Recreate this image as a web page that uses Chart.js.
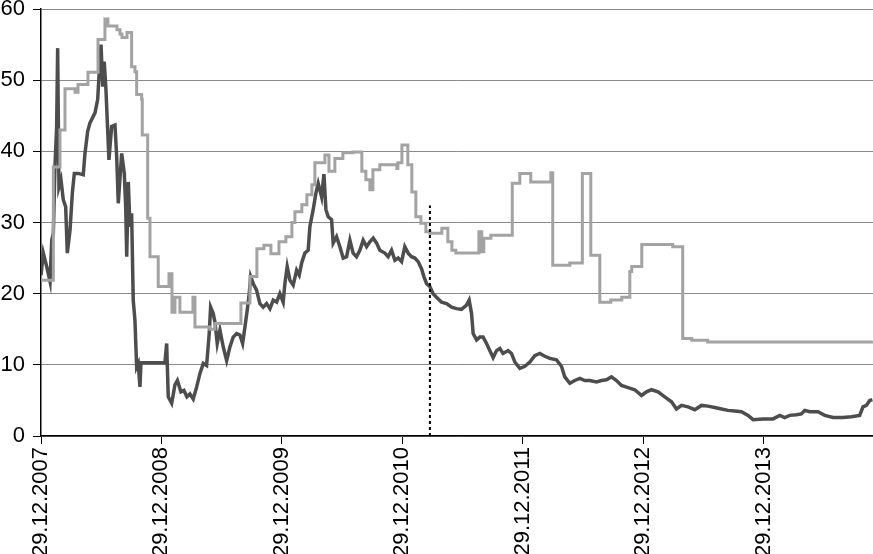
<!DOCTYPE html>
<html>
<head>
<meta charset="utf-8">
<script src="https://cdn.jsdelivr.net/npm/chart.js@4.4.1/dist/chart.umd.min.js"></script>
<style>
  html, body { margin: 0; padding: 0; background: #fff; }
  #wrap { width: 873px; height: 554px; }
</style>
</head>
<body>
<div id="wrap"><canvas id="myChart" width="873" height="554"></canvas></div>
<script>
// x = months since 29.12.2007
var tickMonths = [0, 12, 24, 36, 48, 60, 72];
var tickLabels = ['29.12.2007', '29.12.2008', '29.12.2009', '29.12.2010', '29.12.2011', '29.12.2012', '29.12.2013'];

// light series (step levels, each value holds from its month on)
var lightMonths = [0, 1.23, 1.89, 2.39, 3.39, 3.69, 4.68, 5.68, 6.37, 6.67, 7.57, 7.87, 8.07, 8.57, 9.03, 9.36, 9.53, 10.03, 10.09, 10.63,
  10.86, 11.68, 12.75, 13.05, 13.35, 13.84, 15.14, 15.34, 16.83, 17.33, 19.92, 20.82, 21.51, 22.21, 22.91, 23.71, 24.4, 25.0, 25.3, 25.99,
  26.49, 26.99, 27.29, 28.29, 28.69, 29.28, 30.08, 31.08, 31.97, 32.37, 32.77, 33.07, 33.76, 35.46, 35.56, 35.96, 36.55, 36.95, 37.35, 37.85,
  38.35, 38.75, 39.94, 40.54, 40.94, 41.33, 43.63, 43.92, 44.12, 44.82, 46.96, 47.71, 48.8, 50.8, 50.99, 52.69, 53.94, 54.78, 55.68, 56.77,
  57.87, 58.67, 58.86, 59.86, 62.95, 63.94, 64.84, 66.43, 82.87];
var lightValues = [21.9, 37.8, 43.0, 48.8, 48.3, 49.4, 51.1, 55.7, 58.6, 57.6, 57.1, 56.5, 56.0, 56.7, 51.9, 51.2, 48.0, 47.3, 42.3, 30.6,
  25.2, 21.0, 22.8, 17.4, 19.5, 17.4, 19.5, 15.3, 15.0, 15.8, 18.7, 22.4, 26.3, 26.8, 25.6, 27.3, 28.0, 30.0, 31.5, 32.5,
  33.9, 35.3, 38.4, 39.5, 37.2, 39.0, 39.8, 39.9, 37.2, 36.0, 34.6, 37.4, 38.1, 37.6, 38.4, 40.9, 38.1, 34.3, 30.8, 29.9,
  28.7, 28.5, 29.2, 27.3, 26.1, 25.7, 28.7, 25.9, 27.8, 28.2, 35.5, 36.9, 35.7, 37.0, 24.0, 24.3, 36.9, 25.4, 18.8, 19.1,
  19.5, 23.1, 23.8, 26.9, 26.6, 13.7, 13.45, 13.2, 13.3];

// dark series
var darkMonths = [0, 0.23, 0.57, 0.9, 1.07, 1.23, 1.39, 1.56, 1.66, 1.79, 1.99, 2.22, 2.46, 2.62, 2.89, 3.12, 3.32, 3.72, 4.21, 4.38,
  4.65, 4.88, 5.38, 5.65, 5.88, 5.98, 6.15, 6.3, 6.47, 6.77, 7.04, 7.37, 7.54, 7.7, 8.04, 8.3, 8.44, 8.54, 8.7, 8.86,
  9.03, 9.19, 9.36, 9.53, 9.69, 9.86, 9.96, 12.35, 12.52, 12.68, 13.02, 13.35, 13.59, 13.94, 14.24, 14.54, 14.84, 15.17, 15.51, 15.84,
  16.17, 16.5, 16.76, 16.9, 17.16, 17.33, 17.56, 17.83, 18.16, 18.5, 18.82, 19.15, 19.49, 19.82, 20.09, 20.32, 20.55, 20.75, 20.89, 21.15,
  21.48, 21.81, 22.14, 22.48, 22.81, 23.14, 23.48, 23.8, 24.13, 24.3, 24.53, 24.8, 25.13, 25.47, 25.73, 25.97, 26.29, 26.62, 26.79, 27.12,
  27.39, 27.62, 27.96, 28.19, 28.39, 28.62, 28.95, 29.11, 29.45, 29.78, 30.11, 30.45, 30.78, 31.1, 31.44, 31.77, 32.1, 32.44, 32.77, 33.1,
  33.44, 33.76, 34.26, 34.59, 34.93, 35.26, 35.59, 35.93, 36.25, 36.58, 36.92, 37.25, 37.58, 37.92, 38.15, 38.42, 38.75, 39.07, 39.41, 39.91,
  40.41, 40.91, 41.4, 41.9, 42.4, 42.66, 42.9, 43.06, 43.4, 43.73, 44.05, 44.39, 44.72, 45.05, 45.39, 45.72, 46.04, 46.54, 46.88, 47.21,
  47.71, 48.21, 48.71, 49.2, 49.7, 50.2, 50.7, 51.36, 51.86, 52.19, 52.69, 53.19, 53.69, 54.18, 54.68, 55.35, 55.85, 56.34, 56.84, 57.34,
  57.84, 58.5, 59.16, 59.83, 60.33, 60.83, 61.48, 62.15, 62.82, 63.32, 63.82, 64.47, 65.14, 65.81, 66.46, 67.13, 67.8, 68.46, 69.12, 69.79,
  70.45, 70.95, 71.94, 72.94, 73.61, 74.1, 74.6, 75.27, 75.76, 76.1, 76.59, 77.42, 78.09, 78.92, 79.91, 80.75, 81.57, 81.9, 82.24, 82.57, 82.84];
var darkValues = [22.6, 25.7, 23.8, 21.7, 27.5, 28.5, 37.8, 43.5, 54.5, 35.0, 36.0, 33.2, 32.2, 25.7, 28.9, 34.1, 36.9, 36.9, 36.7, 39.7,
  42.8, 44.0, 45.4, 47.3, 53.1, 55.0, 49.1, 52.6, 48.7, 38.8, 43.5, 43.7, 39.3, 32.7, 39.7, 36.9, 32.2, 25.2, 35.7, 29.4,
  31.3, 19.1, 16.3, 9.7, 10.2, 6.9, 10.3, 10.3, 13.0, 5.5, 4.6, 7.2, 7.8, 6.2, 6.4, 5.5, 5.9, 5.2, 6.9, 8.8,
  10.2, 9.9, 14.4, 18.1, 17.2, 16.0, 13.0, 14.9, 12.5, 10.6, 12.5, 13.9, 14.4, 14.2, 13.0, 15.3, 17.7, 20.0, 22.4, 21.4,
  20.5, 18.6, 18.1, 18.6, 17.9, 19.1, 18.8, 20.0, 18.8, 21.4, 23.8, 21.9, 21.2, 23.3, 22.6, 24.3, 25.7, 26.1, 29.4, 31.8,
  34.1, 35.5, 33.6, 36.8, 31.8, 30.8, 30.4, 27.1, 28.0, 26.6, 25.0, 25.2, 27.5, 25.7, 25.2, 26.1, 27.5, 26.6, 27.3, 27.8,
  27.1, 26.1, 25.7, 25.2, 26.1, 24.7, 25.0, 24.5, 26.6, 25.7, 25.2, 25.0, 24.5, 23.5, 22.4, 21.4, 21.0, 20.0, 19.5, 18.8,
  18.6, 18.1, 17.9, 17.8, 18.4, 19.1, 17.2, 14.4, 13.5, 13.9, 13.9, 13.0, 12.0, 11.0, 12.0, 12.3, 11.6, 12.0, 11.6, 10.4,
  9.5, 9.8, 10.4, 11.3, 11.6, 11.2, 10.9, 10.7, 9.8, 8.3, 7.4, 7.8, 8.1, 7.8, 7.8, 7.6, 7.8, 7.9, 8.3, 7.8,
  7.1, 6.8, 6.5, 5.7, 6.2, 6.5, 6.2, 5.5, 4.8, 3.8, 4.3, 4.1, 3.7, 4.3, 4.2, 4.0, 3.8, 3.6, 3.5, 3.4,
  2.9, 2.3, 2.4, 2.4, 2.9, 2.6, 2.9, 3.0, 3.1, 3.6, 3.4, 3.4, 2.9, 2.6, 2.6, 2.7, 2.9, 4.1, 4.3, 5.0, 5.1];

// dashed marker line
var markerMonth = 38.75;
var markerTop = 32.4;

function pairs(xs, ys) {
  return xs.map(function (x, i) { return { x: x, y: ys[i] }; });
}

var fontFamily = 'Arial, "Liberation Sans", sans-serif';

var ctx = document.getElementById('myChart').getContext('2d');
var myChart = new Chart(ctx, {
  type: 'line',
  data: {
    datasets: [{
      label: 'marker',
      data: [{ x: markerMonth, y: 0 }, { x: markerMonth, y: markerTop }],
      borderColor: '#000',
      borderWidth: 2,
      borderDash: [3, 3],
      pointRadius: 0
    }, {
      label: 'light',
      data: pairs(lightMonths, lightValues),
      borderColor: '#a3a3a3',
      borderWidth: 3,
      stepped: true,
      pointRadius: 0
    }, {
      label: 'dark',
      data: pairs(darkMonths, darkValues),
      borderColor: '#4d4d4d',
      borderWidth: 3.5,
      pointRadius: 0
    }]
  },
  options: {
    responsive: false,
    animation: false,
    layout: { padding: { top: 9, right: 0, left: 0, bottom: 0 } },
    plugins: { legend: { display: false }, tooltip: { enabled: false } },
    scales: {
      x: {
        type: 'linear',
        min: 0,
        max: 82.9,
        afterBuildTicks: function (scale) {
          scale.ticks = tickMonths.map(function (m) { return { value: m }; });
        },
        afterFit: function (scale) {
          scale.height = 118;
          scale.paddingLeft = 0;
          scale.paddingRight = 0;
        },
        grid: { drawOnChartArea: false, drawTicks: true, tickLength: 8, tickColor: '#000' },
        border: { color: '#000', width: 1.5 },
        ticks: {
          autoSkip: false,
          minRotation: 90,
          maxRotation: 90,
          padding: 3,
          color: '#000',
          font: { family: fontFamily, size: 22 },
          callback: function (v) {
            var i = tickMonths.indexOf(v);
            return i >= 0 ? tickLabels[i] : '';
          }
        }
      },
      y: {
        min: 0,
        max: 60,
        afterFit: function (scale) {
          scale.width = 41;
          scale.paddingTop = 0;
          scale.paddingBottom = 0;
        },
        grid: { color: '#8a8a8a', lineWidth: 1, tickLength: 8, tickColor: '#000' },
        border: { color: '#000', width: 1.5 },
        ticks: {
          stepSize: 10,
          padding: 8,
          color: '#000',
          font: { family: fontFamily, size: 22 }
        }
      }
    }
  }
});
</script>
</body>
</html>
